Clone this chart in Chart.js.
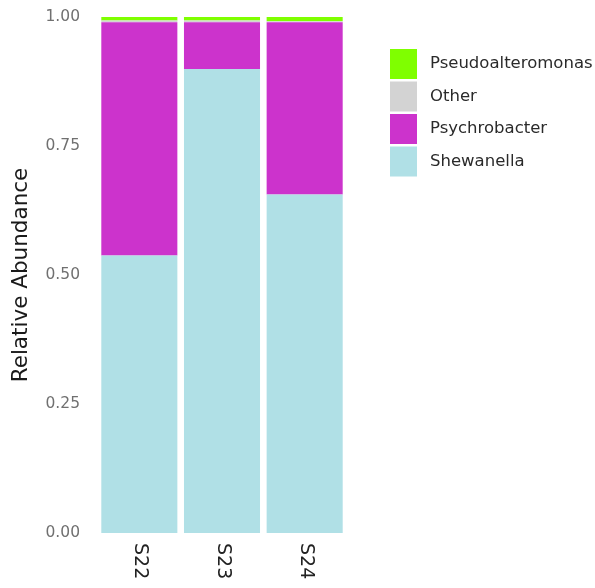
<!DOCTYPE html>
<html>
<head>
<meta charset="utf-8">
<script src="https://cdn.jsdelivr.net/npm/chart.js@4/dist/chart.umd.min.js"></script>
<style>
  html, body { margin: 0; padding: 0; background: #fff; }
  #wrap { width: 595px; height: 588px; }
</style>
</head>
<body>
<div id="wrap"><canvas id="chart" width="595" height="588"></canvas></div>
<script>
// samples on the x axis
const samples = ['S22', 'S23', 'S24'];

// relative abundance per genus, one value per sample (bottom of stack first)
const shewanella = [0.538, 0.899, 0.656];
const psychrobacter = [0.452, 0.091, 0.334];
const other = [0.003, 0.003, 0.002];
const pseudoalteromonas = [0.007, 0.007, 0.008];

const yTicks = [0, 0.25, 0.5, 0.75, 1];

const series = [
  { label: 'Shewanella', data: shewanella, color: '#B0E0E6' },
  { label: 'Psychrobacter', data: psychrobacter, color: '#CC33CC' },
  { label: 'Other', data: other, color: '#D3D3D3' },
  { label: 'Pseudoalteromonas', data: pseudoalteromonas, color: '#7FFF00' },
];

const FONT = '"DejaVu Sans", sans-serif';

// x labels are rotated clockwise (reading top to bottom), so draw them here
const xLabels = {
  id: 'xLabels',
  afterDraw(chart) {
    const { ctx, scales } = chart;
    const x = scales.x;
    ctx.save();
    ctx.font = '19px ' + FONT;
    ctx.fillStyle = '#222';
    ctx.textAlign = 'left';
    ctx.textBaseline = 'middle';
    samples.forEach((s, i) => {
      ctx.save();
      ctx.translate(x.getPixelForValue(i) + 1, chart.chartArea.bottom + 10);
      ctx.rotate(Math.PI / 2);
      ctx.fillText(s, 0, 0);
      ctx.restore();
    });
    ctx.restore();
  }
};

// legend drawn in reverse stack order, like the original
const sideLegend = {
  id: 'sideLegend',
  afterDraw(chart) {
    const { ctx } = chart;
    const left = 390, top = 49, w = 27, h = 30, step = 32.5;
    ctx.save();
    ctx.font = '16.5px ' + FONT;
    ctx.textBaseline = 'middle';
    ctx.textAlign = 'left';
    series.slice().reverse().forEach((s, i) => {
      const y = top + i * step;
      ctx.fillStyle = s.color;
      ctx.fillRect(left, y, w, h);
      ctx.fillStyle = '#2a2a2a';
      ctx.fillText(s.label, left + 40, y + h / 2);
    });
    ctx.restore();
  }
};

new Chart(document.getElementById('chart'), {
  type: 'bar',
  data: {
    labels: samples,
    datasets: series.map(s => ({
      label: s.label,
      data: s.data,
      backgroundColor: s.color,
      borderWidth: 0,
      barPercentage: 0.92,
      categoryPercentage: 1.0,
    })),
  },
  options: {
    responsive: false,
    animation: false,
    layout: { padding: { top: 17, right: 249, bottom: 55, left: 9 } },
    plugins: {
      legend: { display: false },
      tooltip: { enabled: false },
    },
    scales: {
      x: {
        stacked: true,
        grid: { display: false, drawTicks: false },
        border: { display: false },
        ticks: { display: false },
      },
      y: {
        stacked: true,
        min: 0,
        max: 1,
        afterFit: scale => {
          scale.width = 89;
          scale.paddingTop = 0;
          scale.paddingBottom = 0;
        },
        afterBuildTicks: scale => { scale.ticks = yTicks.map(v => ({ value: v })); },
        grid: { display: false, drawTicks: false },
        border: { display: false },
        ticks: {
          padding: 18,
          color: '#707070',
          font: { family: FONT, size: 15.5 },
          callback: v => Number(v).toFixed(2),
        },
        title: {
          display: true,
          text: 'Relative Abundance',
          color: '#1a1a1a',
          font: { family: FONT, size: 21.5 },
          padding: { top: 0, bottom: 0 },
        },
      },
    },
  },
  plugins: [xLabels, sideLegend],
});
</script>
</body>
</html>
